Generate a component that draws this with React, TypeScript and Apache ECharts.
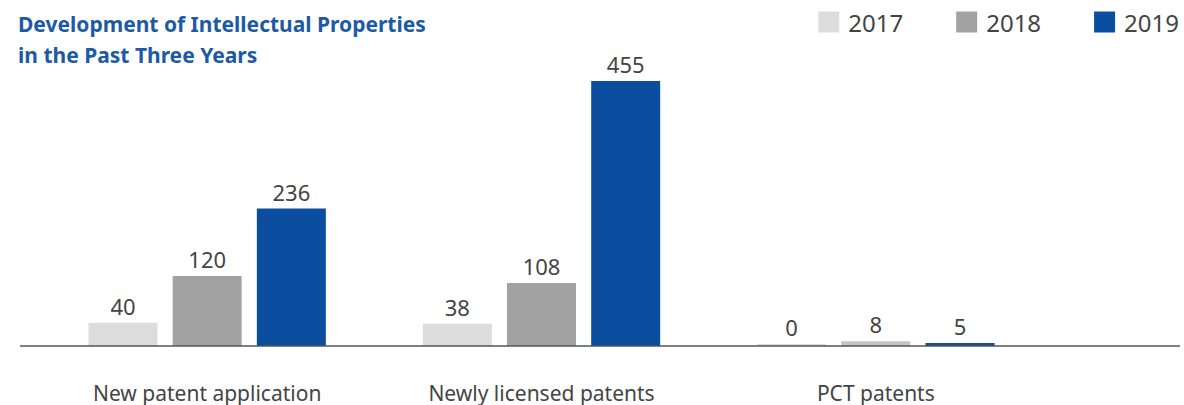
import React, { useEffect, useRef } from "react";
import * as echarts from "echarts";

const categories = ["New patent application", "Newly licensed patents", "PCT patents"];
const years = ["2017", "2018", "2019"];
const values2017 = [40, 38, 0];
const values2018 = [120, 108, 8];
const values2019 = [236, 455, 5];
const colors = ["#dcdcdc", "#a2a2a2", "#0b4ea0"];

export default function App() {
  const ref = useRef<HTMLDivElement>(null);
  useEffect(() => {
    if (!ref.current) return;
    const chart = echarts.init(ref.current, undefined, { renderer: "svg" });
    const font = "'Noto Sans', 'Open Sans', sans-serif";
    const seriesData = [values2017, values2018, values2019];
    chart.setOption({
      animation: false,
      textStyle: { fontFamily: font },
      title: {
        text: "Development of Intellectual Properties\nin the Past Three Years",
        left: 18,
        top: 8,
        padding: 0,
        textStyle: {
          color: "#1d5aa6",
          fontSize: 21,
          fontWeight: "bold",
          lineHeight: 31,
          fontFamily: font,
        },
      },
      legend: {
        data: years,
        right: 0,
        top: 5,
        itemWidth: 21,
        itemHeight: 21,
        itemGap: 53,
        icon: "rect",
        textStyle: { fontSize: 24, color: "#444", fontFamily: font, padding: [0, 0, 0, 4] },
      },
      grid: { left: 40, right: 141, top: 81, bottom: 59 },
      xAxis: {
        type: "category",
        data: categories,
        axisLine: { show: false },
        axisTick: { show: false },
        axisLabel: { margin: 36, fontSize: 21, color: "#444", fontFamily: font },
      },
      yAxis: {
        type: "value",
        min: 0,
        max: 455,
        show: false,
        splitLine: { show: false },
      },
      graphic: [
        {
          type: "line",
          shape: { x1: 20, y1: 346, x2: 1180, y2: 346 },
          style: { stroke: "#555", lineWidth: 1.5 },
          z: 10,
        },
      ],
      series: years.map((y, i) => ({
        name: y,
        type: "bar",
        barWidth: 69,
        barGap: "22%",
        barMinHeight: i === 0 ? 2 : 0,
        itemStyle: { color: colors[i] },
        data: seriesData[i].map((v, j) =>
          i === 1 && j === 2 ? { value: v, itemStyle: { color: "#c4c4c4" } } : v
        ),
        label: {
          show: true,
          position: "top",
          distance: 6,
          fontSize: 22,
          color: "#444",
          fontFamily: font,
        },
      })),
    });
    return () => chart.dispose();
  }, []);
  return (
    <div
      ref={ref}
      style={{ position: "absolute", left: 0, top: 0, width: 1184, height: 405 }}
    />
  );
}
